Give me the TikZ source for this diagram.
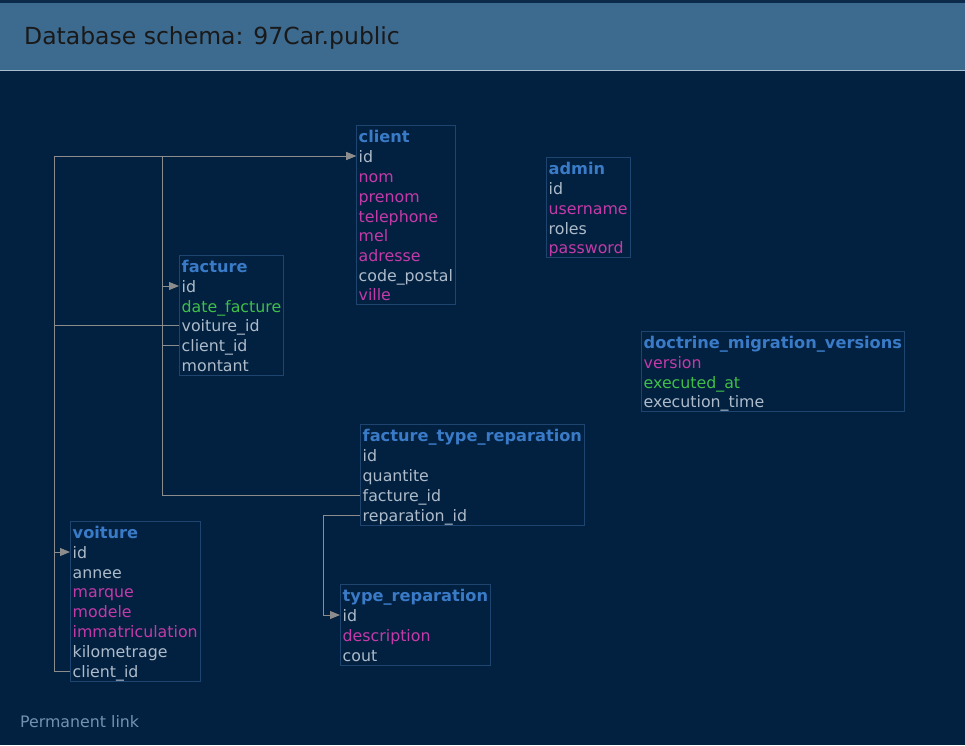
\documentclass[tikz,border=0pt]{standalone}
\usepackage{fontspec}
\setmainfont{DejaVu Sans}
\usetikzlibrary{arrows.meta,fit}

\definecolor{pagebg}{HTML}{02203F}
\definecolor{topstrip}{HTML}{0C2B4B}
\definecolor{barbg}{HTML}{3D6A8F}
\definecolor{barline}{HTML}{A8BCD0}
\definecolor{tblborder}{HTML}{1E4470}
\definecolor{tbltitle}{HTML}{3A7BC8}
\definecolor{colplain}{HTML}{ADBBCA}
\definecolor{colpink}{HTML}{C43AA8}
\definecolor{colgreen}{HTML}{3FBF4A}
\definecolor{fkline}{HTML}{8C8C8C}
\definecolor{linkcol}{HTML}{7391B0}

\tikzset{
  rowtext/.style={anchor=west, inner xsep=2.5pt, inner ysep=0pt, text height=13pt, text depth=0pt,
    font=\fontsize{15.8}{18}\selectfont},
  tname/.style={rowtext, text=tbltitle, font=\fontsize{16.2}{18}\selectfont\bfseries},
  col/.style={rowtext, text=colplain},
  colu/.style={rowtext, text=colpink},
  cold/.style={rowtext, text=colgreen},
  tbl/.style={draw=tblborder, line width=1pt, inner xsep=0pt, inner ysep=3.5pt},
  fk/.style={draw=fkline, line width=0.9pt, -{Triangle[length=10pt,width=8pt]}},
}

\begin{document}
\begin{tikzpicture}[x=1pt, y=-1pt]
    \useasboundingbox (0, 0) rectangle (965, 745);
    \fill [pagebg] (0, 0) rectangle (965, 745);

    % heading bar
    \fill [topstrip] (0, 0) rectangle (965, 3);
    \fill [barbg] (0, 3) rectangle (965, 70);
    \draw [barline, line width=0.8pt] (0, 70.5) -- (965, 70.5);
    \node [anchor=west, inner sep=0pt, text=black!90,
      font=\fontsize{23.5}{26}\selectfont] (heading) at (24, 38) {Database schema: 97Car.public};

    % client
    \node [tname] (client-t) at (356, 136) {client};
    \node [col] (client-id) at (356, 156) {id};
    \node [colu] (client-nom) at (356, 176) {nom};
    \node [colu] (client-prenom) at (356, 196) {prenom};
    \node [colu] (client-telephone) at (356, 216) {telephone};
    \node [colu] (client-mel) at (356, 235) {mel};
    \node [colu] (client-adresse) at (356, 255) {adresse};
    \node [col] (client-code-postal) at (356, 275) {code\_postal};
    \node [colu] (client-ville) at (356, 294) {ville};
    \node [tbl, fit=(client-t)(client-code-postal)(client-ville)] (client) {};

    % admin
    \node [tname] (admin-t) at (546, 168) {admin};
    \node [col] (admin-id) at (546, 188) {id};
    \node [colu] (admin-username) at (546, 208) {username};
    \node [col] (admin-roles) at (546, 228) {roles};
    \node [colu] (admin-password) at (546, 247) {password};
    \node [tbl, fit=(admin-t)(admin-username)(admin-password)] (admin) {};

    % facture
    \node [tname] (facture-t) at (179, 266) {facture};
    \node [col] (facture-id) at (179, 286) {id};
    \node [cold] (facture-date) at (179, 306) {date\_facture};
    \node [col] (facture-voiture-id) at (179, 325) {voiture\_id};
    \node [col] (facture-client-id) at (179, 345) {client\_id};
    \node [col] (facture-montant) at (179, 365) {montant};
    \node [tbl, fit=(facture-t)(facture-date)(facture-montant)] (facture) {};

    % doctrine_migration_versions
    \node [tname] (dmv-t) at (641, 342) {doctrine\_migration\_versions};
    \node [colu] (dmv-version) at (641, 362) {version};
    \node [cold] (dmv-executed-at) at (641, 382) {executed\_at};
    \node [col] (dmv-execution-time) at (641, 401) {execution\_time};
    \node [tbl, fit=(dmv-t)(dmv-execution-time)] (dmv) {};

    % facture_type_reparation
    \node [tname] (ftr-t) at (360, 435) {facture\_type\_reparation};
    \node [col] (ftr-id) at (360, 455) {id};
    \node [col] (ftr-quantite) at (360, 475) {quantite};
    \node [col] (ftr-facture-id) at (360, 495) {facture\_id};
    \node [col] (ftr-reparation-id) at (360, 515) {reparation\_id};
    \node [tbl, fit=(ftr-t)(ftr-reparation-id)] (ftr) {};

    % type_reparation
    \node [tname] (tr-t) at (340, 595) {type\_reparation};
    \node [col] (tr-id) at (340, 615) {id};
    \node [colu] (tr-description) at (340, 635) {description};
    \node [col] (tr-cout) at (340, 655) {cout};
    \node [tbl, fit=(tr-t)(tr-description)(tr-cout)] (tr) {};

    % voiture
    \node [tname] (voiture-t) at (70, 532) {voiture};
    \node [col] (voiture-id) at (70, 552) {id};
    \node [col] (voiture-annee) at (70, 572) {annee};
    \node [colu] (voiture-marque) at (70, 591) {marque};
    \node [colu] (voiture-modele) at (70, 611) {modele};
    \node [colu] (voiture-immat) at (70, 631) {immatriculation};
    \node [col] (voiture-km) at (70, 651) {kilometrage};
    \node [col] (voiture-client-id) at (70, 671) {client\_id};
    \node [tbl, fit=(voiture-t)(voiture-immat)(voiture-client-id)] (voiture) {};

    % foreign keys
    \draw [fk] (voiture-client-id.west) -- ++(-16, 0) |- (client-id.west);
    \draw [fk] (facture-voiture-id.west) -- ++(-125, 0) |- (voiture-id.west);
    \draw [fk] (facture-client-id.west) -- ++(-17, 0) |- (client-id.west);
    \draw [fk] (ftr-facture-id.west) -- ++(-198, 0) |- (facture-id.west);
    \draw [fk] (ftr-reparation-id.west) -- ++(-37, 0) |- (tr-id.west);

    \node [anchor=west, inner sep=0pt, text=linkcol,
      font=\fontsize{15.8}{18}\selectfont] (permalink) at (20, 722) {Permanent link};
\end{tikzpicture}
\end{document}
